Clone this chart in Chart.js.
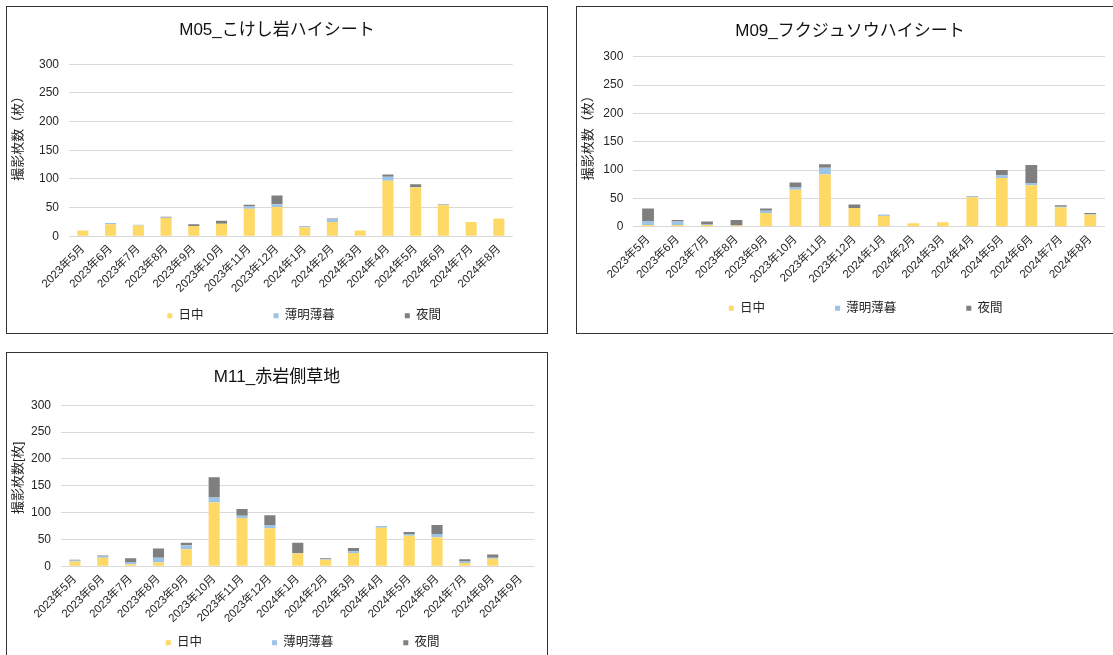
<!DOCTYPE html>
<html lang="ja">
<head>
<meta charset="utf-8">
<title>撮影枚数</title>
<script src="https://cdn.jsdelivr.net/npm/chart.js@4.4.1/dist/chart.umd.min.js"></script>
<style>
  html, body { margin: 0; padding: 0; background: #fff; }
  body { width: 1113px; height: 655px; overflow: hidden; position: relative; }
  .box { position: absolute; border: 1px solid #333; box-sizing: border-box; background: #fff; overflow: hidden; }
  .box canvas { display: block; }
</style>
</head>
<body>
<div class="box" id="b1" style="left:6px; top:6px; width:542px; height:328px;"><canvas id="c1" width="540" height="326"></canvas></div>
<div class="box" id="b2" style="left:576px; top:6px; width:548px; height:328px;"><canvas id="c2" width="546" height="326"></canvas></div>
<div class="box" id="b3" style="left:6px; top:352px; width:542px; height:312px;"><canvas id="c3" width="540" height="310"></canvas></div>
<script>
// Month labels
const months16 = ['2023年5月','2023年6月','2023年7月','2023年8月','2023年9月','2023年10月','2023年11月','2023年12月',
  '2024年1月','2024年2月','2024年3月','2024年4月','2024年5月','2024年6月','2024年7月','2024年8月'];
const months17 = months16.concat(['2024年9月']);

// Series names
const seriesNames = ['日中', '薄明薄暮', '夜間'];

// M05_こけし岩ハイシート
const m05Day      = [10, 21, 19, 32, 18, 22, 48, 51, 16, 25, 10, 97, 85, 54, 25, 31];
const m05Twilight = [0, 2, 1, 1, 0, 0, 4, 5, 2, 5, 0, 7, 1, 1, 0, 0];
const m05Night    = [0, 0, 0, 1, 3, 5, 3, 15, 0, 1, 0, 4, 5, 1, 0, 0];

// M09_フクジュソウハイシート
const m09Day      = [3, 3, 3, 2, 24, 65, 92, 33, 19, 6, 8, 52, 86, 73, 34, 21];
const m09Twilight = [7, 6, 1, 0, 4, 4, 12, 0, 1, 0, 0, 2, 5, 4, 1, 1];
const m09Night    = [22, 3, 5, 10, 4, 9, 6, 6, 1, 0, 0, 0, 9, 32, 3, 2];

// M11_赤岩側草地
const m11Day      = [9, 16, 4, 7, 32, 119, 90, 71, 24, 12, 25, 72, 57, 54, 6, 14, 0];
const m11Twilight = [2, 3, 4, 9, 7, 9, 4, 6, 1, 1, 3, 3, 3, 6, 3, 2, 1];
const m11Night    = [1, 1, 7, 17, 5, 38, 13, 18, 19, 2, 6, 0, 4, 17, 4, 6, 0];

// Y axis ticks
const yMin = 0, yMax = 300, yStep = 50;

const colors = ['#FFD966', '#9DC3E6', '#7F7F7F'];
const FONT = '"Liberation Sans", "Noto Sans CJK JP", sans-serif';
const TEXT = '#262626';

// Centres the title on the whole canvas, places the legend row
// (wide item spacing, first entry at a given x, row centred at a given y)
// and nudges the vertical axis title along the axis.
const blockPlacement = {
  id: 'blockPlacement',
  afterUpdate(chart, args, opts) {
    const tb = chart.titleBlock;
    if (tb && opts.titleDx) { tb.left += opts.titleDx; tb.right += opts.titleDx; }

    const ys = chart.scales.y;
    if (ys && !ys._titleNudged) {
      const draw = ys.drawTitle.bind(ys);
      ys.drawTitle = function () {
        const ctx = this.ctx;
        ctx.save();
        ctx.translate(0, opts.yTitleDy || 0);
        draw();
        ctx.restore();
      };
      ys._titleNudged = true;
    }

    const lg = chart.legend;
    if (!lg || !lg.legendHitBoxes || !lg.legendHitBoxes.length) return;
    const pad = lg.options.labels.padding;
    const itemH = lg._itemHeight || lg.legendHitBoxes[0].height;
    lg.top = opts.rowY - itemH / 2 - pad;
    lg.bottom = chart.height;
    lg.height = lg.bottom - lg.top;
    const dx = opts.firstX - lg.legendHitBoxes[0].left;
    lg.left += dx;
    lg.right += dx;
    lg.legendHitBoxes.forEach(h => { h.left += dx; });
  }
};

function makeChart(canvasId, cfg) {
  const canvas = document.getElementById(canvasId);
  const W = canvas.width, H = canvas.height;
  const legendFont = 12.5, legendPad = 70, legendSlot = 25;
  const xHeight = H - legendSlot - cfg.plotBottom;
  const titleSize = 17, titleLH = titleSize * 1.2;
  const titleTop = cfg.titleY - titleLH / 2;
  const titleBottom = cfg.plotTop - titleTop - titleLH;
  const padRight = W - cfg.plotRight;

  return new Chart(canvas, {
    type: 'bar',
    data: {
      labels: cfg.labels,
      datasets: cfg.series.map((d, i) => ({
        label: seriesNames[i],
        data: d,
        backgroundColor: colors[i],
        borderWidth: 0,
        categoryPercentage: 1,
        barPercentage: 0.4
      }))
    },
    options: {
      responsive: false,
      animation: false,
      layout: { padding: { left: 0, top: 0, right: padRight, bottom: 0 } },
      scales: {
        x: {
          stacked: true,
          grid: { display: false, drawTicks: false },
          border: { display: false },
          ticks: {
            autoSkip: false, minRotation: 45, maxRotation: 45,
            padding: 6, color: TEXT,
            font: { family: FONT, size: 11.5 }
          },
          afterFit: s => { s.height = xHeight; }
        },
        y: {
          stacked: true,
          min: yMin, max: yMax,
          grid: { color: '#D9D9D9', lineWidth: 1, drawTicks: false },
          border: { display: false },
          ticks: {
            stepSize: yStep, padding: 10, color: TEXT,
            font: { family: FONT, size: 12 }
          },
          title: {
            display: true, text: cfg.yTitle, color: TEXT,
            font: { family: FONT, size: 13 },
            padding: { top: 4, bottom: 0 }
          },
          afterFit: s => { s.width = cfg.plotLeft; }
        }
      },
      plugins: {
        title: {
          display: true, text: cfg.title, color: '#111',
          font: { family: FONT, size: titleSize, weight: 'normal' },
          padding: { top: titleTop, bottom: titleBottom }
        },
        legend: {
          position: 'bottom',
          maxHeight: legendSlot,
          labels: {
            boxWidth: 5, boxHeight: 5, padding: legendPad, color: TEXT,
            font: { family: FONT, size: legendFont }
          }
        },
        blockPlacement: {
          titleDx: padRight / 2, firstX: cfg.legendX, rowY: cfg.legendY, yTitleDy: cfg.yTitleDy
        },
        tooltip: { enabled: false }
      }
    },
    plugins: [blockPlacement]
  });
}

makeChart('c1', {
  title: 'M05_こけし岩ハイシート', yTitle: '撮影枚数（枚）',
  labels: months16, series: [m05Day, m05Twilight, m05Night],
  titleY: 23, plotTop: 57.3, plotBottom: 229.3, plotLeft: 62, plotRight: 505.7,
  legendY: 308.7, legendX: 160.3, yTitleDy: -15
});

makeChart('c2', {
  title: 'M09_フクジュソウハイシート', yTitle: '撮影枚数（枚）',
  labels: months16, series: [m09Day, m09Twilight, m09Night],
  titleY: 24.7, plotTop: 49.7, plotBottom: 219.7, plotLeft: 56.3, plotRight: 528,
  legendY: 301.3, legendX: 151.8, yTitleDy: -7
});

makeChart('c3', {
  title: 'M11_赤岩側草地', yTitle: '撮影枚数[枚]',
  labels: months17, series: [m11Day, m11Twilight, m11Night],
  titleY: 24.7, plotTop: 52.3, plotBottom: 213.3, plotLeft: 54, plotRight: 527.5,
  legendY: 289.7, legendX: 158.8, yTitleDy: -8
});
</script>
</body>
</html>
